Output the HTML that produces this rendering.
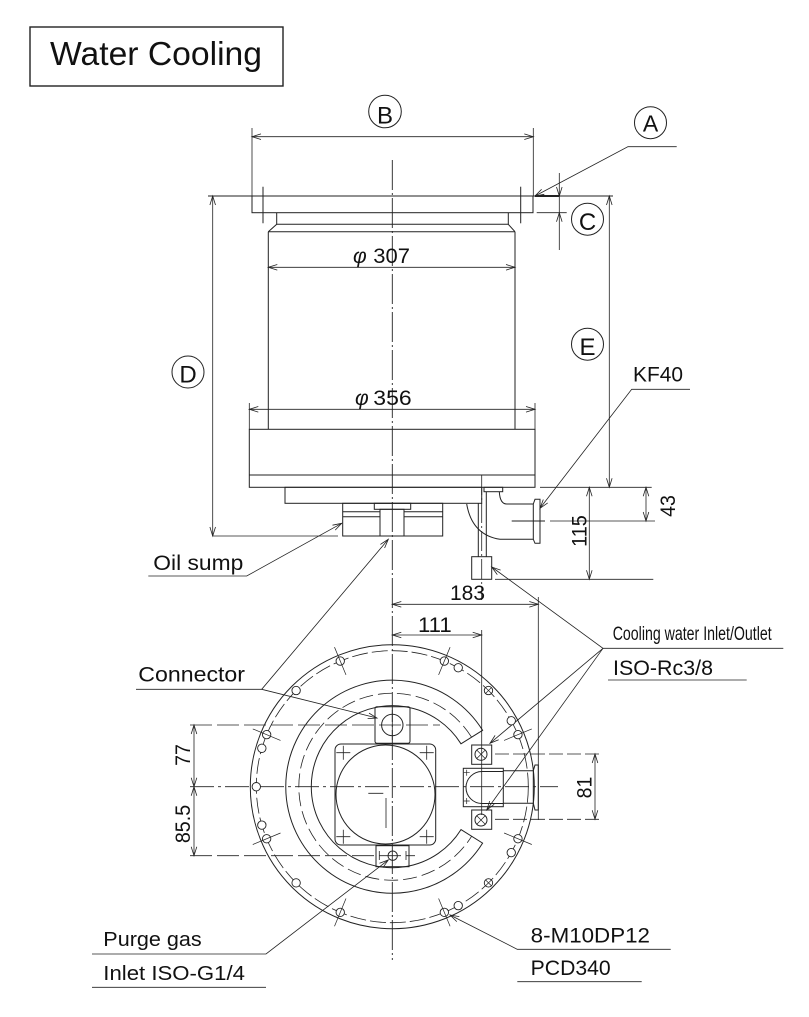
<!DOCTYPE html>
<html><head><meta charset="utf-8"><style>
html,body{margin:0;padding:0;background:#fff;}
svg{display:block;}
text{font-family:"Liberation Sans",sans-serif;fill:#111;stroke:none;}
</style></head><body>
<svg width="809" height="1017" viewBox="0 0 809 1017" xmlns="http://www.w3.org/2000/svg">
<rect width="809" height="1017" fill="#fff"/>
<!-- Title -->
<rect x="30" y="27" width="253" height="59" fill="none" stroke="#222" stroke-width="1.4"/>
<text x="50" y="65" font-size="33" textLength="212" lengthAdjust="spacingAndGlyphs">Water Cooling</text>

<g fill="none" stroke="#222" stroke-width="1">
<!-- center lines -->
<line x1="392.3" y1="160" x2="392.3" y2="960" stroke-dasharray="30 3 2 3" stroke-width="0.9"/>

<!-- ===== SIDE VIEW ===== -->
<!-- top flange -->
<line x1="208" y1="196" x2="613" y2="196"/>
<line x1="535" y1="196" x2="559" y2="196" stroke-width="2"/>
<rect x="252" y="196" width="281" height="16.7"/>
<line x1="263" y1="186.7" x2="263" y2="223.3"/>
<line x1="520.7" y1="186.7" x2="520.7" y2="223.3"/>
<!-- neck and chamfer -->
<polyline points="276.7,212.7 276.7,224.3 268.3,231.7"/>
<polyline points="508.3,212.7 508.3,224.3 515,231.7"/>
<line x1="276.7" y1="224.3" x2="508.3" y2="224.3"/>
<line x1="268.3" y1="231.7" x2="515" y2="231.7"/>
<!-- body -->
<line x1="268.3" y1="231.7" x2="268.3" y2="429.3"/>
<line x1="515" y1="231.7" x2="515" y2="429.3"/>
<!-- base -->
<rect x="249.3" y="429.3" width="285.7" height="58"/>
<line x1="249.3" y1="475" x2="535" y2="475"/>
<rect x="285" y="487.3" width="196.7" height="16"/>
<!-- oil sump block -->
<rect x="342.7" y="503.3" width="100" height="32.7"/>
<line x1="342.7" y1="511.7" x2="380" y2="511.7"/>
<line x1="342.7" y1="516.7" x2="380" y2="516.7"/>
<line x1="404" y1="511.7" x2="442.7" y2="511.7"/>
<line x1="404" y1="516.7" x2="442.7" y2="516.7"/>
<rect x="374.3" y="503.3" width="36.4" height="6"/>
<rect x="380" y="509.3" width="24" height="26.7"/>
<!-- right piping -->
<rect x="484" y="487.3" width="18.7" height="4.4"/>
<path d="M499.3,491.7 Q500,504 506.7,504 L533.3,504"/>
<path d="M466.7,504 Q472,535 500,539.3 L533.3,539.3"/>
<polygon points="533.3,504 535,499.3 540,499.3 540,543.3 535,543.3 533.3,539.3"/>
<line x1="481.7" y1="475" x2="481.7" y2="600" stroke-dasharray="20 3 2 3" stroke-width="0.8"/>
<line x1="478.3" y1="503.3" x2="478.3" y2="556.7"/>
<line x1="486.3" y1="491.7" x2="486.3" y2="556.7"/>
<rect x="471.7" y="556.7" width="20" height="22.6"/>
<line x1="511.7" y1="521" x2="545" y2="521"/>
</g>

<!-- dimension lines side view -->
<g fill="none" stroke="#222" stroke-width="0.8">
<!-- B -->
<line x1="252" y1="128" x2="252" y2="196"/>
<line x1="533.3" y1="128" x2="533.3" y2="196"/>
<line x1="252" y1="136.7" x2="533.3" y2="136.7"/>
<path d="M261,133.9 L252,136.7 L261,139.5 M524.3,133.9 L533.3,136.7 L524.3,139.5"/>
<!-- phi307 -->
<line x1="268.3" y1="267.3" x2="515" y2="267.3"/>
<path d="M277.3,264.5 L268.3,267.3 L277.3,270.1 M506,264.5 L515,267.3 L506,270.1"/>
<!-- phi356 -->
<line x1="249.3" y1="403" x2="249.3" y2="429.3"/>
<line x1="535" y1="403" x2="535" y2="429.3"/>
<line x1="249.3" y1="409.3" x2="535" y2="409.3"/>
<path d="M258.3,406.5 L249.3,409.3 L258.3,412.1 M526,406.5 L535,409.3 L526,412.1"/>
<!-- D -->
<line x1="212.7" y1="196" x2="212.7" y2="536"/>
<line x1="212.7" y1="536" x2="338" y2="536"/>
<path d="M209.9,205 L212.7,196 L215.5,205 M209.9,527 L212.7,536 L215.5,527"/>
<!-- C -->
<line x1="536.7" y1="212.7" x2="566.7" y2="212.7"/>
<line x1="559.3" y1="173" x2="559.3" y2="250"/>
<path d="M556.5,187 L559.3,196 L562.1,187 M556.5,221.7 L559.3,212.7 L562.1,221.7"/>
<!-- A leader -->
<polyline points="676.7,146.7 628,146.7 535,196"/>
<path d="M541.6,189.3 L535,196 L544.3,194.3"/>
<!-- E -->
<line x1="609.3" y1="196" x2="609.3" y2="487.3"/>
<path d="M606.5,205 L609.3,196 L612.1,205 M606.5,478.3 L609.3,487.3 L612.1,478.3"/>
<!-- KF40 leader -->
<polyline points="690,389.3 631.7,389.3 540,508.3"/>
<path d="M543.3,499.5 L540,508.3 L547.7,502.9"/>
<!-- 43 / 115 -->
<line x1="540" y1="487.3" x2="651.7" y2="487.3"/>
<line x1="550" y1="521" x2="655" y2="521"/>
<line x1="495" y1="579.3" x2="653.3" y2="579.3"/>
<line x1="646" y1="487.3" x2="646" y2="521"/>
<path d="M643.2,496.3 L646,487.3 L648.8,496.3 M643.2,512 L646,521 L648.8,512"/>
<line x1="589.3" y1="487.3" x2="589.3" y2="579.3"/>
<path d="M586.5,496.3 L589.3,487.3 L592.1,496.3 M586.5,570.3 L589.3,579.3 L592.1,570.3"/>
<!-- Oil sump leader -->
<polyline points="148.3,576 246.7,576 341.7,523.3"/>
<path d="M335.2,530.1 L341.7,523.3 L332.5,525.2"/>
<!-- Connector leaders -->
<polyline points="136,689.3 261.7,689.3 388.3,539.3"/>
<path d="M384.6,548 L388.3,539.3 L380.4,544.4"/>
<line x1="261.7" y1="689.3" x2="377" y2="718"/>
<path d="M367.6,718.6 L377,718 L369,713.1"/>
<!-- 183 / 111 -->
<line x1="538.3" y1="597" x2="538.3" y2="820"/>
<line x1="392.3" y1="604.3" x2="538.3" y2="604.3"/>
<path d="M401.3,601.5 L392.3,604.3 L401.3,607.1 M529.3,601.5 L538.3,604.3 L529.3,607.1"/>
<line x1="481.7" y1="630" x2="481.7" y2="815"/>
<line x1="392.3" y1="635" x2="481.7" y2="635"/>
<path d="M401.3,632.2 L392.3,635 L401.3,637.8 M472.7,632.2 L481.7,635 L472.7,637.8"/>
<!-- Cooling water leaders -->
<polyline points="783.3,648.3 603,648.3 491.7,567"/>
<path d="M500.6,570.1 L491.7,567 L497.3,574.6"/>
<line x1="603" y1="648.3" x2="490" y2="743.3"/>
<path d="M495.1,735.4 L490,743.3 L498.7,739.7"/>
<line x1="603" y1="648.3" x2="486.7" y2="810"/>
<path d="M489.7,801.1 L486.7,810 L494.2,804.3"/>
<line x1="608" y1="680" x2="746.7" y2="680"/>
<!-- 81 -->
<line x1="495" y1="754" x2="600" y2="754" stroke-dasharray="14 4"/>
<line x1="495" y1="819.3" x2="600" y2="819.3" stroke-dasharray="14 4"/>
<line x1="595" y1="754" x2="595" y2="819.3"/>
<path d="M592.2,763 L595,754 L597.8,763 M592.2,810.3 L595,819.3 L597.8,810.3"/>
<!-- 77 / 85.5 -->
<line x1="190" y1="725" x2="440" y2="725" stroke-dasharray="22 5"/>
<line x1="190" y1="786.7" x2="558" y2="786.7" stroke-dasharray="24 4 3 4"/>
<line x1="190" y1="855.7" x2="415" y2="855.7" stroke-dasharray="22 5"/>
<line x1="194" y1="725" x2="194" y2="855.7"/>
<path d="M191.2,734 L194,725 L196.8,734 M191.2,777.7 L194,786.7 L196.8,777.7 M191.2,795.7 L194,786.7 L196.8,795.7 M191.2,846.7 L194,855.7 L196.8,846.7"/>
<!-- Purge leader -->
<polyline points="92,954 266,954 388.3,860"/>
<path d="M382.9,867.7 L388.3,860 L379.5,863.3"/>
<line x1="92" y1="987.3" x2="266" y2="987.3"/>
<!-- 8-M10 leader -->
<polyline points="670.7,949.3 517.3,949.3 450,915"/>
<path d="M459.3,916.6 L450,915 L456.8,921.6"/>
<line x1="517.3" y1="981.7" x2="641.7" y2="981.7"/>
</g>

<!-- ===== BOTTOM VIEW ===== -->
<g fill="none" stroke="#222" stroke-width="1">
<circle cx="392.3" cy="786.7" r="142"/>
<circle cx="392.3" cy="786.7" r="136" stroke-dasharray="16 4" stroke-width="0.8"/>
<path d="M482.6,730.3 A106.5,106.5 0 1 0 482.6,843.1 L461,829.6 A81,81 0 1 1 461,743.8 Z"/>
<path d="M471.6,737.2 A93.5,93.5 0 1 0 471.6,836.3" stroke-dasharray="14 5" stroke-width="0.8"/>
<!-- center body -->
<rect x="335" y="744" width="100.7" height="101" rx="6"/>
<circle cx="385.5" cy="794.5" r="49.5"/>
<path d="M336.3,752.7 h14 M343.3,745.7 v14 M419.7,752.7 h14 M426.7,745.7 v14 M336.3,836.7 h14 M343.3,829.7 v14 M419.7,836.7 h14 M426.7,829.7 v14" stroke-width="0.8"/>
<path d="M368.3,793.3 h15 M386,798 v30" stroke-width="0.8"/>
<!-- connector box -->
<rect x="375" y="706.7" width="35" height="36.6" rx="2"/>
<circle cx="392.3" cy="725" r="10.7"/>
<line x1="392.3" y1="710" x2="392.3" y2="740" stroke-width="0.8"/>
<!-- purge box -->
<rect x="376" y="845.7" width="33" height="21"/>
<circle cx="392.7" cy="855.7" r="4.7"/>
<path d="M379.3,851 v9 M406,851 v9" stroke-width="0.8"/>
<!-- right fittings -->
<rect x="471.7" y="745" width="20" height="19.3"/>
<circle cx="481" cy="754.3" r="6"/>
<path d="M476.8,750.1 L485.2,758.5 M476.8,758.5 L485.2,750.1" stroke-width="0.7"/>
<rect x="471.7" y="810" width="20" height="19.3"/>
<circle cx="481" cy="820" r="6"/>
<path d="M476.8,815.8 L485.2,824.2 M476.8,824.2 L485.2,815.8" stroke-width="0.7"/>
<rect x="463.3" y="768.3" width="40" height="38.4"/>
<path d="M503.3,771.5 L482,771.5 A16,16 0 0 0 482,803.5 L503.3,803.5"/>
<path d="M503.3,770.7 L533.3,770.7 M503.3,803.3 L533.3,803.3"/>
<polygon points="533.3,770.7 535,765 538.3,765 538.3,810 535,810 533.3,803.3"/>
<path d="M463.7,772.7 h6 M466.7,769.7 v6 M463.7,801 h6 M466.7,798 v6" stroke-width="0.7"/>
</g>

<!-- bolt holes -->
<g fill="#fff" stroke="#222" stroke-width="0.9">
<circle cx="517.95" cy="734.65" r="4.2"/>
<circle cx="444.35" cy="661.05" r="4.2"/>
<circle cx="340.25" cy="661.05" r="4.2"/>
<circle cx="266.65" cy="734.65" r="4.2"/>
<circle cx="266.65" cy="838.75" r="4.2"/>
<circle cx="340.25" cy="912.35" r="4.2"/>
<circle cx="444.35" cy="912.35" r="4.2"/>
<circle cx="517.95" cy="838.75" r="4.2"/>
<circle cx="511.25" cy="720.77" r="4.2"/>
<circle cx="488.47" cy="690.53" r="4.2"/>
<circle cx="458.23" cy="667.75" r="4.2"/>
<circle cx="511.25" cy="852.63" r="4.2"/>
<circle cx="488.47" cy="882.87" r="4.2"/>
<circle cx="458.23" cy="905.65" r="4.2"/>
<circle cx="296.13" cy="690.53" r="4.2"/>
<circle cx="261.83" cy="748.31" r="4.2"/>
<circle cx="256.3" cy="786.7" r="4.2"/>
<circle cx="261.83" cy="825.09" r="4.2"/>
<circle cx="296.13" cy="882.87" r="4.2"/>
</g>
<g fill="none" stroke="#222" stroke-width="0.7">
<line x1="504.09" y1="740.39" x2="531.8" y2="728.91"/>
<line x1="438.61" y1="674.91" x2="450.09" y2="647.19"/>
<line x1="345.99" y1="674.91" x2="334.51" y2="647.19"/>
<line x1="280.51" y1="740.39" x2="252.79" y2="728.91"/>
<line x1="280.51" y1="833.01" x2="252.79" y2="844.49"/>
<line x1="345.99" y1="898.49" x2="334.51" y2="926.21"/>
<line x1="438.61" y1="898.49" x2="450.09" y2="926.21"/>
<line x1="504.09" y1="833.01" x2="531.8" y2="844.49"/>
<path d="M485.5,687.5 L491.5,693.5 M485.5,693.5 L491.5,687.5"/>
<path d="M485.5,879.9 L491.5,885.9 M485.5,885.9 L491.5,879.9"/>
</g>

<!-- circled letters -->
<g fill="none" stroke="#222" stroke-width="1">
<circle cx="385" cy="111.5" r="16.3"/>
<circle cx="650.5" cy="122.7" r="16"/>
<circle cx="587.5" cy="219.2" r="16"/>
<circle cx="587.5" cy="344.2" r="16"/>
<circle cx="188" cy="372" r="16"/>
</g>
<text x="385" y="123.3" font-size="24" text-anchor="middle">B</text>
<text x="650.5" y="131.5" font-size="23" text-anchor="middle">A</text>
<text x="587.5" y="230" font-size="24" text-anchor="middle">C</text>
<text x="587.5" y="355" font-size="24" text-anchor="middle">E</text>
<text x="188" y="382.5" font-size="24" text-anchor="middle">D</text>

<!-- dimension texts -->
<text x="353" y="263" font-size="21" font-style="italic">φ</text>
<text x="373.3" y="263" font-size="21" textLength="36.7" lengthAdjust="spacingAndGlyphs">307</text>
<text x="355" y="405" font-size="21" font-style="italic">φ</text>
<text x="373.3" y="405" font-size="21" textLength="38.4" lengthAdjust="spacingAndGlyphs">356</text>
<text x="633" y="381.7" font-size="21" textLength="50" lengthAdjust="spacingAndGlyphs">KF40</text>
<text transform="translate(675,506) rotate(-90)" font-size="21" text-anchor="middle" textLength="21.7" lengthAdjust="spacingAndGlyphs">43</text>
<text transform="translate(586.7,531) rotate(-90)" font-size="21" text-anchor="middle" textLength="31.7" lengthAdjust="spacingAndGlyphs">115</text>
<text transform="translate(591.7,787.5) rotate(-90)" font-size="21" text-anchor="middle" textLength="21.7" lengthAdjust="spacingAndGlyphs">81</text>
<text transform="translate(190,755) rotate(-90)" font-size="21" text-anchor="middle" textLength="21.7" lengthAdjust="spacingAndGlyphs">77</text>
<text transform="translate(190,824) rotate(-90)" font-size="21" text-anchor="middle" textLength="38.3" lengthAdjust="spacingAndGlyphs">85.5</text>
<text x="450" y="600" font-size="21" textLength="35" lengthAdjust="spacingAndGlyphs">183</text>
<text x="418" y="632" font-size="21" textLength="33.7" lengthAdjust="spacingAndGlyphs">111</text>

<!-- labels -->
<text x="153.3" y="570" font-size="21" textLength="90" lengthAdjust="spacingAndGlyphs">Oil sump</text>
<text x="138.3" y="681.7" font-size="21" textLength="106.7" lengthAdjust="spacingAndGlyphs">Connector</text>
<text x="612.7" y="640" font-size="19" textLength="159" lengthAdjust="spacingAndGlyphs">Cooling water Inlet/Outlet</text>
<text x="613" y="675" font-size="21" textLength="100" lengthAdjust="spacingAndGlyphs">ISO-Rc3/8</text>
<text x="103.3" y="946" font-size="20" textLength="98.4" lengthAdjust="spacingAndGlyphs">Purge gas</text>
<text x="103.3" y="980" font-size="20" textLength="141.7" lengthAdjust="spacingAndGlyphs">Inlet ISO-G1/4</text>
<text x="530.7" y="942.7" font-size="21" textLength="119.3" lengthAdjust="spacingAndGlyphs">8-M10DP12</text>
<text x="530.7" y="975" font-size="21" textLength="80" lengthAdjust="spacingAndGlyphs">PCD340</text>
</svg>
</body></html>
